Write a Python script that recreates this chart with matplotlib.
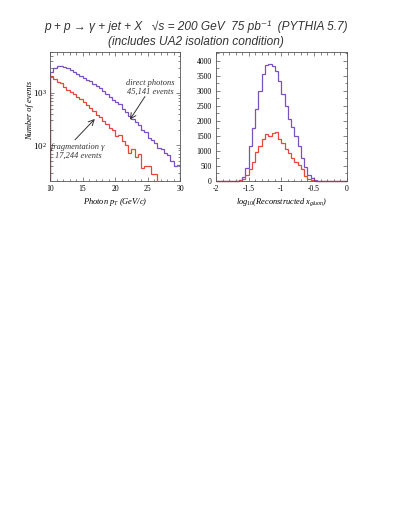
import numpy as np
import matplotlib
matplotlib.use("Agg")
import matplotlib.pyplot as plt
from matplotlib.ticker import MultipleLocator, FixedLocator, LogLocator, NullFormatter

plt.rcParams['axes.unicode_minus'] = False
plt.rcParams['mathtext.fontset'] = 'custom'
plt.rcParams['mathtext.rm'] = 'Liberation Serif'
plt.rcParams['mathtext.it'] = 'Liberation Serif:italic'

# photon pT spectrum, 0.5 GeV bins from 10 to 30
pt_edges = np.arange(10, 30.01, 0.5)
direct_pt = [2512, 2951, 3236, 3311, 3162, 2951, 2692, 2512, 2291, 2138,
             1905, 1738, 1660, 1479, 1349, 1259, 1072, 955, 851, 724,
             676, 603, 501, 427, 355, 316, 275, 240, 200, 178,
             138, 126, 110, 91, 85, 71, 66, 50, 40, 42]
frag_pt = [2100, 1850, 1620, 1540, 1290, 1150, 1020, 970, 830, 770,
           675, 590, 515, 445, 372, 345, 295, 257, 214, 196,
           148, 155, 123, 103, 71, 87, 59, 70, 37, 41,
           41, 28, 28]

# log10 x_gluon, 0.05 bins from -2 to 0
xg_edges = np.linspace(-2, 0, 41)
direct_xg = [0, 0, 0, 0, 0, 0, 0, 30, 140, 420,
             1170, 1780, 2390, 3000, 3560, 3880, 3900, 3830, 3650, 3330,
             2890, 2500, 2060, 1810, 1500, 1170, 780, 450, 190, 110,
             35, 0, 0, 0, 0, 0, 0, 0, 0, 0]
frag_xg = [0, 0, 0, 0, 0, 0, 0, 20, 60, 200,
           390, 620, 950, 1170, 1390, 1560, 1500, 1600, 1640, 1390,
           1260, 1060, 920, 780, 620, 530, 400, 180, 80, 25,
           5, 0, 0, 0, 0, 0, 0, 0, 0, 0]

purple = '#7a50c4'
red = '#e5483a'
serif = 'Liberation Serif'
ink = '#333333'

fig = plt.figure(figsize=(4.09, 5.29), dpi=100)
ax1 = fig.add_axes([50/409, 1-181/529, 130/409, 129/529])
ax2 = fig.add_axes([216/409, 1-181/529, 130.7/409, 129/529])

ax1.stairs(direct_pt, pt_edges, baseline=1, color=purple, lw=0.9)
ax1.stairs(frag_pt, pt_edges[:len(frag_pt)+1], baseline=1, color=red, lw=0.9)
ax1.set_yscale('log')
ax1.set_xlim(10, 30)
ax1.set_ylim(21, 6000)
ax1.xaxis.set_major_locator(MultipleLocator(5))
ax1.xaxis.set_minor_locator(MultipleLocator(1))
ax1.yaxis.set_major_locator(FixedLocator([100, 1000]))
ax1.yaxis.set_minor_locator(LogLocator(base=10, subs=np.arange(2, 10)))
ax1.yaxis.set_minor_formatter(NullFormatter())
ax1.set_yticklabels([r'$10^{2}$', r'$10^{3}$'])

ax2.stairs(direct_xg, xg_edges, baseline=0, color=purple, lw=0.9, clip_on=False)
ax2.stairs(frag_xg, xg_edges, baseline=0, color=red, lw=0.9, clip_on=False)
ax2.set_xlim(-2, 0)
ax2.set_ylim(0, 4300)
ax2.xaxis.set_major_locator(MultipleLocator(0.5))
ax2.xaxis.set_minor_locator(MultipleLocator(0.1))
ax2.yaxis.set_major_locator(MultipleLocator(500))
ax2.yaxis.set_minor_locator(MultipleLocator(250))
ax2.set_xticks([-2, -1.5, -1, -0.5, 0])
ax2.set_xticklabels(['-2', '-1.5', '-1', '-0.5', '0'])

for ax in (ax1, ax2):
    for s in ax.spines.values():
        s.set_linewidth(0.6)
        s.set_color('#555555')
    ax.tick_params(which='both', direction='in', top=True, right=True,
                   width=0.5, color='#555555', labelsize=5.5, pad=3)
    ax.tick_params(which='major', length=3)
    ax.tick_params(which='minor', length=1.8)
    for lab in ax.get_xticklabels() + ax.get_yticklabels():
        lab.set_family(serif)
ax1.tick_params(axis='y', labelsize=6.5, pad=2)

ax1.set_xlabel(r'Photon $p_{T}$ (GeV/c)', family=serif, style='italic', fontsize=6)
ax1.xaxis.set_label_coords(0.5, -0.12)
ax1.set_ylabel('Number of events', family=serif, style='italic', fontsize=6)
ax1.yaxis.set_label_coords(-0.125, 0.55)
ax2.set_xlabel(r'log$_{10}$(Reconstructed x$_{gluon}$)', family=serif, style='italic', fontsize=6)
ax2.xaxis.set_label_coords(0.5, -0.12)

ax1.text(25.4, 1280, 'direct photons\n45,141 events', ha='center', va='center',
         family=serif, style='italic', fontsize=6, color=ink, linespacing=1.15)
ax1.annotate('', xy=(22.3, 309), xytext=(24.6, 850),
             arrowprops=dict(arrowstyle='->', color=ink, lw=0.7, shrinkA=0, shrinkB=0))
ax1.text(14.3, 76, 'fragmentation \u03b3\n17,244 events', ha='center', va='center',
         family=serif, style='italic', fontsize=6, color=ink, linespacing=1.15)
ax1.annotate('', xy=(16.9, 319), xytext=(13.85, 128),
             arrowprops=dict(arrowstyle='->', color=ink, lw=0.7, shrinkA=0, shrinkB=0))

title_font = ['Liberation Sans', 'DejaVu Sans']
fig.text(196/409, 1-27/529, 'p + p \u2192 \u03b3 + jet + X   \u221as = 200 GeV  75 pb\u207b\u00b9  (PYTHIA 5.7)',
         ha='center', va='center', family=title_font, style='italic', fontsize=8.6, color=ink)
fig.text(196/409, 1-42/529, '(includes UA2 isolation condition)',
         ha='center', va='center', family=title_font, style='italic', fontsize=8.6, color=ink)

fig.savefig('out.png', dpi=100)
